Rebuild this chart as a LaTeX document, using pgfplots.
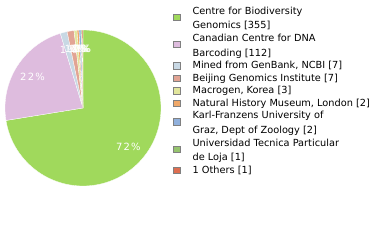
\documentclass[border=0pt]{standalone}
\usepackage{pgfplots}
\pgfplotsset{compat=1.18}
\usepackage{fontspec}
\setmainfont{DejaVu Sans}
\definecolor{c1}{RGB}{160,217,92}
\definecolor{c2}{RGB}{222,188,222}
\definecolor{c3}{RGB}{200,216,228}
\definecolor{c4}{RGB}{226,164,148}
\definecolor{c5}{RGB}{226,230,156}
\definecolor{c6}{RGB}{240,168,104}
\definecolor{c7}{RGB}{144,176,220}
\definecolor{c8}{RGB}{150,196,110}
\definecolor{c9}{RGB}{222,110,80}
\begin{document}
\begin{tikzpicture}
% counts
\def\vA{355}\def\vB{112}\def\vC{7}\def\vD{7}\def\vE{3}\def\vF{2}\def\vG{2}\def\vH{1}\def\vI{1}
\pgfmathsetmacro{\tot}{\vA+\vB+\vC+\vD+\vE+\vF+\vG+\vH+\vI}
\pgfmathsetmacro{\k}{360/\tot}
\pgfmathsetmacro{\aA}{90}
\pgfmathsetmacro{\aB}{\aA-\k*\vA}
\pgfmathsetmacro{\aC}{\aB-\k*\vB}
\pgfmathsetmacro{\aD}{\aC-\k*\vC}
\pgfmathsetmacro{\aE}{\aD-\k*\vD}
\pgfmathsetmacro{\aF}{\aE-\k*\vE}
\pgfmathsetmacro{\aG}{\aF-\k*\vF}
\pgfmathsetmacro{\aH}{\aG-\k*\vG}
\pgfmathsetmacro{\aI}{\aH-\k*\vH}
\pgfmathsetmacro{\aJ}{\aI-\k*\vI}
\def\cx{83}\def\cy{132}\def\R{78}\def\rl{59.5}
\begin{axis}[width=380bp,height=240bp,scale only axis,hide axis,
  xmin=0,xmax=380,ymin=0,ymax=240,clip=false,
  legend image code/.code={\path (0bp,0bp) (6.5bp,0bp);
     \draw[overlay,draw=gray,line width=0.6bp,#1] (0bp,0bp) rectangle (6.5bp,6.5bp);},
  legend style={at={(axis cs:173.5,234.3)},anchor=north west,draw=none,fill=none,
    inner sep=0pt,outer sep=0pt,row sep=0pt,column sep=12.2bp,
    font=\fontsize{9.8}{12.5}\selectfont,
    nodes={inner sep=0pt,outer sep=0pt},
    cells={anchor=base west,text height=8.4bp,text depth=3.1bp}},
]
\path (axis cs:0,0) rectangle (axis cs:380,240);
\addplot[fill=c1,draw=white,line width=0.3pt,domain=\aB:\aA,samples=120,forget plot] ({\cx+\R*cos(x)},{\cy+\R*sin(x)}) -- (axis cs:\cx,\cy) -- cycle;
\addplot[fill=c2,draw=white,line width=0.3pt,domain=\aC:\aB,samples=60,forget plot] ({\cx+\R*cos(x)},{\cy+\R*sin(x)}) -- (axis cs:\cx,\cy) -- cycle;
\addplot[fill=c3,draw=white,line width=0.3pt,domain=\aD:\aC,samples=5,forget plot] ({\cx+\R*cos(x)},{\cy+\R*sin(x)}) -- (axis cs:\cx,\cy) -- cycle;
\addplot[fill=c4,draw=white,line width=0.3pt,domain=\aE:\aD,samples=5,forget plot] ({\cx+\R*cos(x)},{\cy+\R*sin(x)}) -- (axis cs:\cx,\cy) -- cycle;
\addplot[fill=c5,draw=white,line width=0.3pt,domain=\aF:\aE,samples=5,forget plot] ({\cx+\R*cos(x)},{\cy+\R*sin(x)}) -- (axis cs:\cx,\cy) -- cycle;
\addplot[fill=c6,draw=white,line width=0.3pt,domain=\aG:\aF,samples=5,forget plot] ({\cx+\R*cos(x)},{\cy+\R*sin(x)}) -- (axis cs:\cx,\cy) -- cycle;
\addplot[fill=c7,draw=white,line width=0.3pt,domain=\aH:\aG,samples=5,forget plot] ({\cx+\R*cos(x)},{\cy+\R*sin(x)}) -- (axis cs:\cx,\cy) -- cycle;
\addplot[fill=c8,draw=white,line width=0.3pt,domain=\aI:\aH,samples=5,forget plot] ({\cx+\R*cos(x)},{\cy+\R*sin(x)}) -- (axis cs:\cx,\cy) -- cycle;
\addplot[fill=c9,draw=white,line width=0.3pt,domain=\aJ:\aI,samples=5,forget plot] ({\cx+\R*cos(x)},{\cy+\R*sin(x)}) -- (axis cs:\cx,\cy) -- cycle;
% percentage labels
\pgfmathsetmacro{\mA}{(\aA+\aB)/2}\pgfmathsetmacro{\mB}{(\aB+\aC)/2}
\pgfmathsetmacro{\mC}{(\aC+\aD)/2}\pgfmathsetmacro{\mD}{(\aD+\aE)/2}
\pgfmathsetmacro{\mE}{(\aE+\aF)/2}\pgfmathsetmacro{\mF}{(\aF+\aG)/2}
\pgfmathsetmacro{\mG}{(\aG+\aH)/2}\pgfmathsetmacro{\mH}{(\aH+\aI)/2}
\pgfmathsetmacro{\mI}{(\aI+\aJ)/2}
\tikzset{pl/.style={text=white,font=\fontsize{10}{11}\selectfont\addfontfeature{LetterSpace=12},inner sep=0pt}}
\node[pl] at (axis cs:{\cx+\rl*cos(\mA)},{\cy+\rl*sin(\mA)}) {72\%};
\node[pl] at (axis cs:{\cx+\rl*cos(\mB)},{\cy+\rl*sin(\mB)}) {22\%};
\node[pl] at (axis cs:{\cx+\rl*cos(\mC)},{\cy+\rl*sin(\mC)}) {1\%};
\node[pl] at (axis cs:{\cx+\rl*cos(\mD)},{\cy+\rl*sin(\mD)}) {1\%};
\node[pl] at (axis cs:{\cx+\rl*cos(\mE)},{\cy+\rl*sin(\mE)}) {1\%};
\node[pl] at (axis cs:{\cx+\rl*cos(\mF)},{\cy+\rl*sin(\mF)}) {0\%};
\node[pl] at (axis cs:{\cx+\rl*cos(\mG)},{\cy+\rl*sin(\mG)}) {0\%};
\node[pl] at (axis cs:{\cx+\rl*cos(\mH)},{\cy+\rl*sin(\mH)}) {0\%};
\node[pl] at (axis cs:{\cx+\rl*cos(\mI)},{\cy+\rl*sin(\mI)}) {0\%};
% legend (two-line entries use a second, image-less row)
\addlegendimage{fill=c1,yshift=-6.25bp}\addlegendentry{Centre for Biodiversity}
\addlegendimage{empty legend}\addlegendentry[text depth=4.1bp]{Genomics [355]}
\addlegendimage{fill=c2,yshift=-6.25bp}\addlegendentry{Canadian Centre for DNA}
\addlegendimage{empty legend}\addlegendentry[text depth=4.1bp]{Barcoding [112]}
\addlegendimage{fill=c3}\addlegendentry[text depth=4.1bp]{Mined from GenBank, NCBI [7]}
\addlegendimage{fill=c4}\addlegendentry[text depth=4.1bp]{Beijing Genomics Institute [7]}
\addlegendimage{fill=c5}\addlegendentry[text depth=4.1bp]{Macrogen, Korea [3]}
\addlegendimage{fill=c6}\addlegendentry[text depth=4.1bp]{Natural History Museum, London [2]}
\addlegendimage{fill=c7,yshift=-6.25bp}\addlegendentry{Karl-Franzens University of}
\addlegendimage{empty legend}\addlegendentry[text depth=4.1bp]{Graz, Dept of Zoology [2]}
\addlegendimage{fill=c8,yshift=-6.25bp}\addlegendentry{Universidad Tecnica Particular}
\addlegendimage{empty legend}\addlegendentry[text depth=4.1bp]{de Loja [1]}
\addlegendimage{fill=c9}\addlegendentry[text depth=4.1bp]{1 Others [1]}
\end{axis}
\end{tikzpicture}
\end{document}
